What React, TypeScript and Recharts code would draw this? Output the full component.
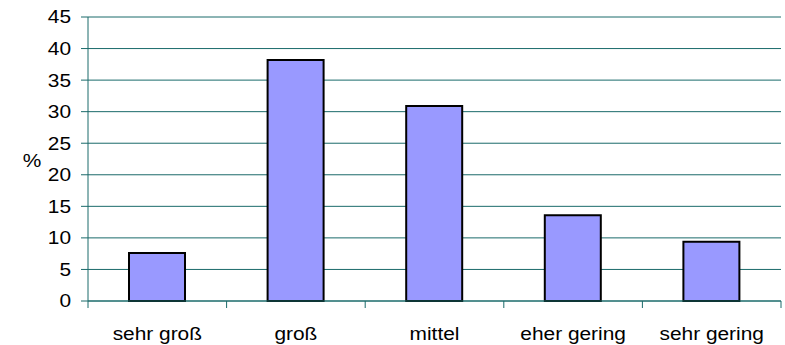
import React from 'react';
import { BarChart, Bar, XAxis, YAxis, CartesianGrid } from 'recharts';

const categories = ['sehr groß', 'groß', 'mittel', 'eher gering', 'sehr gering'];
const percentValues = [7.6, 38.2, 30.9, 13.6, 9.4];
const yTicks = [0, 5, 10, 15, 20, 25, 30, 35, 40, 45];

const data = categories.map((c, i) => ({ name: c, value: percentValues[i] }));

const TEAL = '#1a6a6a';
const FONT = '"Liberation Sans", Arial, sans-serif';
const FS = 18;
const SX = 1.16;
const X_TICK_SIZE = 7;
const X_TICK_MARGIN = 19;

const XTick = (props: any) => {
  const { x, y, payload, index, visibleTicksCount } = props;
  const half = payload && typeof payload.offset === 'number' ? payload.offset : 0;
  const axisY = y - X_TICK_SIZE - X_TICK_MARGIN;
  const last = typeof visibleTicksCount === 'number' ? index === visibleTicksCount - 1 : index === categories.length - 1;
  return (
    <g>
      {half > 0 && (
        <line x1={x - half} x2={x - half} y1={axisY} y2={axisY + X_TICK_SIZE} stroke={TEAL} />
      )}
      {half > 0 && last && (
        <line x1={x + half} x2={x + half} y1={axisY} y2={axisY + X_TICK_SIZE} stroke={TEAL} />
      )}
      <text
        x={0}
        y={0}
        dy="0.71em"
        transform={`translate(${x},${y}) scale(${SX},1)`}
        textAnchor="middle"
        fill="#000"
        fontSize={FS}
        fontFamily={FONT}
      >
        {payload.value}
      </text>
    </g>
  );
};

const YTick = (props: any) => {
  const { x, y, payload } = props;
  return (
    <text
      x={0}
      y={0}
      dy="0.355em"
      transform={`translate(${x},${y}) scale(${SX},1)`}
      textAnchor="end"
      fill="#000"
      fontSize={FS}
      fontFamily={FONT}
    >
      {payload.value}
    </text>
  );
};

const PercentLabel = (props: any) => {
  const vb = props.viewBox || {};
  const cy = vb.y + vb.height / 2;
  return (
    <text
      x={0}
      y={0}
      dy="0.355em"
      transform={`translate(${32},${cy + 2}) scale(${SX},1)`}
      textAnchor="middle"
      fill="#000"
      fontSize={FS}
      fontFamily={FONT}
    >
      %
    </text>
  );
};

export default function App() {
  return (
    <div style={{ position: 'absolute', left: 0, top: 0, width: 785, height: 345, background: '#fff' }}>
      <BarChart
        width={785}
        height={345}
        data={data}
        margin={{ top: 17, right: 4, bottom: 0, left: 0 }}
        barCategoryGap={0}
      >
        <CartesianGrid vertical={false} stroke={TEAL} strokeWidth={1} />
        <XAxis
          dataKey="name"
          interval={0}
          tickLine={false}
          axisLine={{ stroke: TEAL }}
          tickSize={X_TICK_SIZE}
          tickMargin={X_TICK_MARGIN}
          height={44}
          tick={XTick}
        />
        <YAxis
          domain={[0, 45]}
          ticks={yTicks}
          interval={0}
          width={88}
          tickSize={7}
          tickMargin={10}
          axisLine={{ stroke: TEAL }}
          tickLine={{ stroke: TEAL }}
          tick={YTick}
          label={<PercentLabel />}
        />
        <YAxis
          yAxisId="right"
          orientation="right"
          width={0}
          tick={false}
          tickLine={false}
          axisLine={{ stroke: '#6aa3a3' }}
        />
        <Bar
          dataKey="value"
          fill="#9999FF"
          stroke="#000"
          strokeWidth={2}
          barSize={56}
          isAnimationActive={false}
        />
      </BarChart>
    </div>
  );
}
